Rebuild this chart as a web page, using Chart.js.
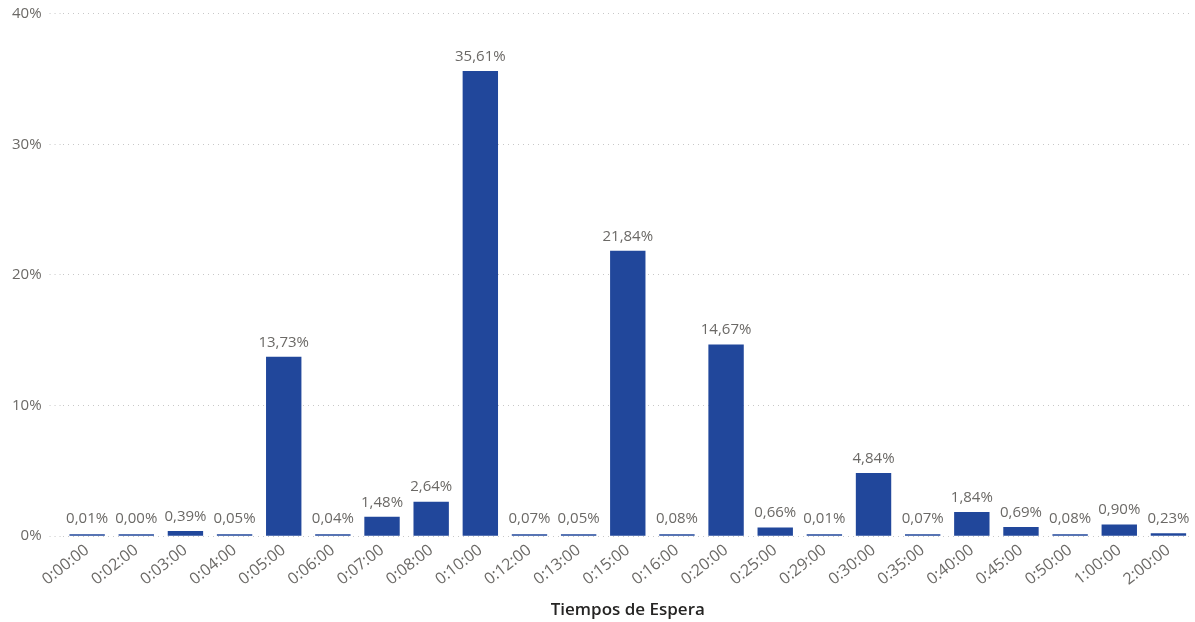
<!DOCTYPE html>
<html>
<head>
<meta charset="utf-8">
<script src="https://cdn.jsdelivr.net/npm/chart.js@4/dist/chart.umd.min.js"></script>
<style>
  html, body { margin: 0; padding: 0; background: #fff; }
  .chart-container { position: relative; width: 1195px; height: 622px; }
</style>
</head>
<body>
<div class="chart-container"><canvas id="chart-1"></canvas></div>
<script>
// tiempos de espera (categorias) y porcentaje de casos
const categories = [
  '0:00:00', '0:02:00', '0:03:00', '0:04:00', '0:05:00', '0:06:00',
  '0:07:00', '0:08:00', '0:10:00', '0:12:00', '0:13:00', '0:15:00',
  '0:16:00', '0:20:00', '0:25:00', '0:29:00', '0:30:00', '0:35:00',
  '0:40:00', '0:45:00', '0:50:00', '1:00:00', '2:00:00',
];
const percentValues = [
  0.01, 0.00, 0.39, 0.05, 13.73, 0.04,
  1.48, 2.64, 35.61, 0.07, 0.05, 21.84,
  0.08, 14.67, 0.66, 0.01, 4.84, 0.07,
  1.84, 0.69, 0.08, 0.90, 0.23,
];
const yTicks = [0, 10, 20, 30, 40];

const barColor = '#21479b';
const textGrey = '#6b6966';
const gridGrey = '#c8c8c8';
const fontFamily = "'Segoe UI', 'Open Sans', 'Noto Sans', sans-serif";

const formatPct = (v) => v.toFixed(2).replace('.', ',') + '%';

// etiquetas de datos encima de cada barra
const dataLabels = {
  id: 'dataLabels',
  afterDatasetsDraw(chart) {
    const ctx = chart.ctx;
    const meta = chart.getDatasetMeta(0);
    ctx.save();
    ctx.font = `15px ${fontFamily}`;
    ctx.fillStyle = textGrey;
    ctx.textAlign = 'center';
    ctx.textBaseline = 'bottom';
    meta.data.forEach((bar, i) => {
      const top = Math.min(bar.y, bar.base - 2);
      ctx.fillText(formatPct(percentValues[i]), bar.x, top - 7);
    });
    ctx.restore();
  },
};

new Chart(document.getElementById('chart-1'), {
  type: 'bar',
  data: {
    labels: categories,
    datasets: [
      {
        label: 'Tiempos de Espera',
        data: percentValues,
        backgroundColor: barColor,
        borderWidth: 0,
        minBarLength: 2,
        barPercentage: 0.72,
        categoryPercentage: 1,
      },
    ],
  },
  options: {
    responsive: true,
    maintainAspectRatio: false,
    animation: false,
    layout: { padding: { top: 0, right: 2, left: 4, bottom: 2 } },
    plugins: {
      legend: { display: false },
      tooltip: { enabled: false },
    },
    scales: {
      x: {
        grid: { display: false, drawTicks: false },
        border: { display: false },
        ticks: {
          color: textGrey,
          font: { family: fontFamily, size: 16 },
          minRotation: 38,
          maxRotation: 38,
          autoSkip: false,
          padding: 4.5,
        },
        title: {
          display: true,
          text: 'Tiempos de Espera',
          color: '#252423',
          font: { family: fontFamily, size: 17, weight: '600' },
          padding: { top: 6, bottom: 0 },
        },
      },
      y: {
        min: 0,
        max: 40,
        afterBuildTicks: (axis) => {
          axis.ticks = yTicks.map((v) => ({ value: v }));
        },
        grid: {
          color: gridGrey,
          lineWidth: 1,
          tickLength: 13,
          tickColor: gridGrey,
          tickBorderDash: [1, 4],
        },
        border: { display: false, dash: [1, 4] },
        ticks: {
          color: textGrey,
          font: { family: fontFamily, size: 15, lineHeight: 0.75 },
          padding: 8,
          callback: (v) => v + '%',
        },
      },
    },
  },
  plugins: [dataLabels],
});
</script>
</body>
</html>
